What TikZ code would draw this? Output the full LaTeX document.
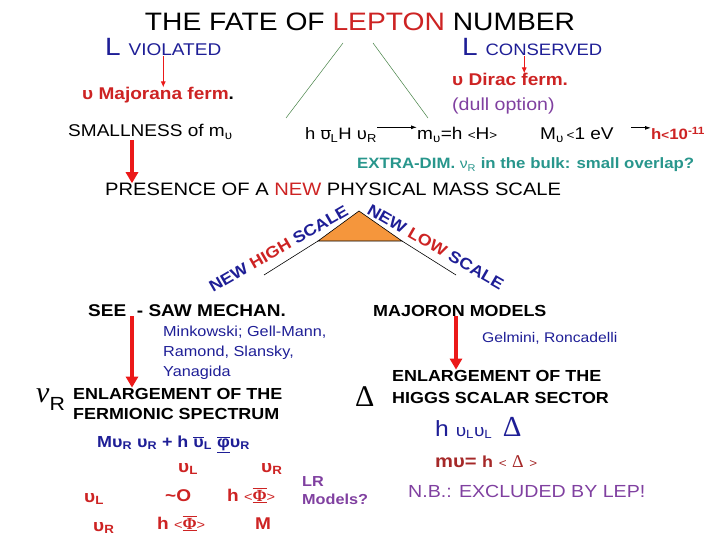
\documentclass[tikz,border=0pt]{standalone}
\usepackage{fontspec}
\setmainfont[FakeStretch=1.12]{Liberation Sans}
\newfontfamily\serif{Liberation Serif}
\usetikzlibrary{arrows.meta,calc}
\definecolor{Navy}{RGB}{30,30,150}
\definecolor{Crimson}{RGB}{205,35,35}
\definecolor{Arrowred}{RGB}{235,25,25}
\definecolor{Plum}{RGB}{128,64,160}
\definecolor{Teal}{RGB}{40,150,140}
\definecolor{Orange}{RGB}{245,150,60}
\definecolor{Leaf}{RGB}{70,130,70}
\definecolor{Brick}{RGB}{165,40,40}
\newcommand{\fs}[1]{\fontsize{#1}{#1}\selectfont}
\newcommand{\barup}{$\overline{\mbox{υ}}$}
\newcommand{\stemphi}{$\overline{\underline{\mbox{\serif\bfseries Φ}}}$}
\tikzset{
  >={Latex[length=2mm]},
  txt/.style={inner sep=0pt,anchor=base west},
  thinarrow/.style={-{Latex[length=6pt,width=5pt]},Arrowred,line width=1pt},
  fatarrow/.style={-{Triangle[length=11pt,width=12pt]},Arrowred,line width=3.5pt},
  blackarrow/.style={-{Latex[length=6pt,width=4pt]},line width=0.9pt},
}
\begin{document}
\begin{tikzpicture}[x=1pt,y=-1pt]
\useasboundingbox (0,0) rectangle (720,540);
% title and the two branches
\node[txt,anchor=base] (title) at (360,31) {\fs{25.2}THE FATE OF \textcolor{Crimson}{LEPTON} NUMBER};
\node[txt,Navy] (viol) at (105,56) {\fs{25}L \fs{17}VIOLATED};
\node[txt,Navy] (cons) at (462,56) {\fs{25}L \fs{16.5}CONSERVED};
\coordinate (vtopl) at (343,43);
\coordinate (vtopr) at (373,43);
\coordinate (vendl) at (286,118);
\coordinate (vendr) at (428,118);
\draw[Leaf,line width=0.5pt] (vtopl) -- (vendl);
\draw[Leaf,line width=0.5pt] (vtopr) -- (vendr);

% L violated
\node[txt,Crimson,font=\bfseries] (maj) at (82,100) {\fs{17}υ Majorana ferm\textcolor{black}{.}};
\node[txt] (small) at (68,137) {\fs{17}SMALLNESS of m\textsubscript{υ}};
\draw[thinarrow] (viol.south) -- (viol.south |- maj.north);

% L conserved
\node[txt,Crimson,font=\bfseries] (dirac) at (452,86) {\fs{17}υ Dirac ferm.};
\node[txt,Plum] (dull) at (452,111) {\fs{17.5}(dull option)};
\draw[thinarrow] ([xshift=-8pt]cons.south) -- ([xshift=-8pt]cons.south |- dirac.north);

\node[txt] (yuk) at (305,140) {\fs{16.5}h \barup\textsubscript{L}H υ\textsubscript{R}};
\node[txt] (mnu) at (417,140) {\fs{17}m\textsubscript{υ}=h {\fs{12}<}H{\fs{12}>}};
\node[txt] (Mnu) at (540,140) {\fs{17}M\textsubscript{υ}\,{\fs{12}<}1 eV};
\node[txt,Crimson,font=\bfseries] (hlim) at (651,140) {\fs{15}h{\fs{12}<}10\textsuperscript{-11}};
\draw[blackarrow] ([yshift=8pt]yuk.east) -- ([yshift=8pt]yuk.east -| mnu.west);
\draw[blackarrow] ([xshift=-20pt,yshift=6pt]hlim.west) -- ([yshift=6pt]hlim.west);
\node[txt,Teal,font=\bfseries] (extra) at (357,169) {\fs{15}EXTRA-DIM. {\mdseries\fs{14}ν\textsubscript{R}} in the bulk: small overlap?};

% new mass scale
\node[txt] (scale) at (105,196) {\fs{18}PRESENCE OF A \textcolor{Crimson}{NEW} PHYSICAL MASS SCALE};
\draw[fatarrow] ([xshift=64pt]small.south west) -- ([xshift=64pt]small.south west |- scale.north);
\coordinate (apex) at (359,211);
\coordinate (tl) at (318,241);
\coordinate (tr) at (402,241);
\coordinate (hi) at (264,275);
\coordinate (lo) at (456,275);
\draw[fill=Orange,line width=0.6pt] (apex) -- (tl) -- (tr) -- cycle;
\draw[line width=0.6pt] (hi) -- (tl);
\draw[line width=0.6pt] (tr) -- (lo);
\node[txt,Navy,font=\bfseries,rotate=30] (high) at (213,293)
  {\fs{16}NEW \textcolor{Crimson}{HIGH} SCALE};
\node[txt,Navy,font=\bfseries,rotate=-30] (low) at (366,213)
  {\fs{16}NEW \textcolor{Crimson}{LOW} SCALE};

% see-saw
\node[txt,font=\bfseries] (seesaw) at (88,316) {\fs{17}SEE\ \ -\ SAW\ MECHAN.};
\node[txt,Navy] (mink) at (163,336) {\fs{14.5}Minkowski; Gell-Mann,};
\node[txt,Navy] (ramond) at (163,356) {\fs{14.5}Ramond, Slansky,};
\node[txt,Navy] (yana) at (163,376) {\fs{14.5}Yanagida};
\node[txt] (nuR) at (36,402) {{\serif\itshape\fs{30}ν}\raisebox{-8pt}{\fs{19}R}};
\node[txt,font=\bfseries] (ferm1) at (73,399) {\fs{16}ENLARGEMENT OF THE};
\node[txt,font=\bfseries] (ferm2) at (73,419) {\fs{16}FERMIONIC SPECTRUM};
\draw[fatarrow] ([xshift=44pt]seesaw.south west) -- ([xshift=44pt]seesaw.south west |- ferm1.north);
\node[txt,Navy,font=\bfseries] (lagr) at (97,447)
  {\fs{16}Mυ\textsubscript{R} υ\textsubscript{R} + h \barup\textsubscript{L} $\overline{\underline{\mbox{φ}}}$υ\textsubscript{R}};

% mass matrix
\begin{scope}[Crimson,font=\bfseries]
\node[txt] (colL) at (178,472) {\fs{17}υ\textsubscript{L}};
\node[txt] (colR) at (261,472) {\fs{17}υ\textsubscript{R}};
\node[txt] (rowL) at (84,502) {\fs{17}υ\textsubscript{L}};
\node[txt] (rowR) at (93,531) {\fs{17}υ\textsubscript{R}};
\node[txt] (mLL) at (165,501) {\fs{17}\char`\~O};
\node[txt] (mLR) at (227,501) {\fs{17}h {\mdseries\fs{13}<}\stemphi{\mdseries\fs{13}>}};
\node[txt] (mRL) at (157,529) {\fs{17}h {\mdseries\fs{13}<}\stemphi{\mdseries\fs{13}>}};
\node[txt] (mRR) at (255,529) {\fs{17}M};
\end{scope}
\node[txt,Plum,font=\bfseries] (lr) at (302,486) {\fs{14.5}LR};
\node[txt,Plum,font=\bfseries] (models) at (302,504) {\fs{14.5}Models?};

% majoron
\node[txt,font=\bfseries] (majoron) at (373,316) {\fs{16}MAJORON MODELS};
\node[txt,Navy] (gelm) at (482,342) {\fs{14}Gelmini, Roncadelli};
\node[txt] (delta) at (355,406) {\serif\fs{30}Δ};
\node[txt,font=\bfseries] (higgs1) at (392,381) {\fs{16}ENLARGEMENT OF THE};
\node[txt,font=\bfseries] (higgs2) at (392,403) {\fs{16}HIGGS SCALAR SECTOR};
\draw[fatarrow] ([xshift=83pt]majoron.south west) -- ([xshift=83pt]majoron.south west |- higgs1.north);
\node[txt,Navy] (hnn) at (435,436) {\fs{22}h {\fs{17}υ\textsubscript{L}υ\textsubscript{L}}\, {\serif\fs{29}Δ}};
\node[txt,Brick,font=\bfseries] (mdel) at (435,467) {\fs{18}mυ= {\fs{16}h} {\mdseries\fs{12}<} {\serif\mdseries\fs{18}Δ} {\mdseries\fs{12}>}};
\node[txt,Plum] (nb) at (408,497) {\fs{17.5}N.B.: EXCLUDED BY LEP!};
\end{tikzpicture}
\end{document}
